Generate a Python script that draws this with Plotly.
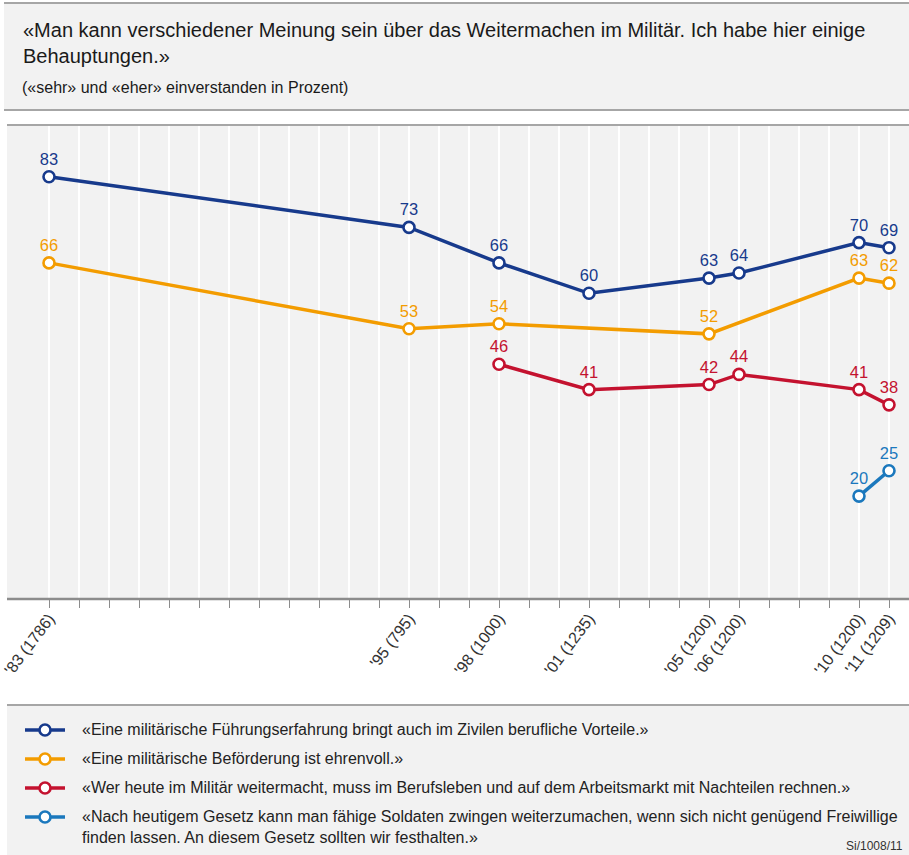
import plotly.graph_objects as go

# Survey years and values («sehr» und «eher» einverstanden, in Prozent)
years_fuehrung = [1983, 1995, 1998, 2001, 2005, 2006, 2010, 2011]
vals_fuehrung = [83, 73, 66, 60, 63, 64, 70, 69]

years_befoerderung = [1983, 1995, 1998, 2005, 2010, 2011]
vals_befoerderung = [66, 53, 54, 52, 63, 62]

years_nachteile = [1998, 2001, 2005, 2006, 2010, 2011]
vals_nachteile = [46, 41, 42, 44, 41, 38]

years_gesetz = [2010, 2011]
vals_gesetz = [20, 25]

tick_years = [1983, 1995, 1998, 2001, 2005, 2006, 2010, 2011]
tick_labels = ["'83 (1786)", "'95 (795)", "'98 (1000)", "'01 (1235)",
               "'05 (1200)", "'06 (1200)", "'10 (1200)", "'11 (1209)"]

series_names = [
    "«Eine militärische Führungserfahrung bringt auch im Zivilen berufliche Vorteile.»",
    "«Eine militärische Beförderung ist ehrenvoll.»",
    "«Wer heute im Militär weitermacht, muss im Berufsleben und auf dem Arbeitsmarkt mit Nachteilen rechnen.»",
    "«Nach heutigem Gesetz kann man fähige Soldaten zwingen weiterzumachen, wenn sich nicht genügend Freiwillige<br>finden lassen. An diesem Gesetz sollten wir festhalten.»",
]
colors = ["#173a8c", "#f39c00", "#c4122f", "#1b78bd"]

W, H = 909, 855
FONT = "Liberation Sans, Arial, sans-serif"
GRAY_BG = "#f2f2f2"
RULE = "#a6a6a6"


def py(pix):
    """Convert a pixel row (from top) to paper coordinates."""
    return 1 - pix / H


def px(pix):
    return pix / W


plot_left, plot_top, plot_bottom = 7, 125, 599

fig = go.Figure()

series = [
    (years_fuehrung, vals_fuehrung),
    (years_befoerderung, vals_befoerderung),
    (years_nachteile, vals_nachteile),
    (years_gesetz, vals_gesetz),
]
for (xs, ys), col, name in zip(series, colors, series_names):
    fig.add_trace(go.Scatter(
        x=xs, y=ys, mode="lines+markers+text",
        name=name,
        line=dict(color=col, width=3.5),
        marker=dict(size=11, color="white", line=dict(color=col, width=2.6)),
        text=[str(v) for v in ys], textposition="top center",
        textfont=dict(family=FONT, size=16.5, color=col),
        cliponaxis=False, showlegend=False,
    ))

all_years = list(range(1983, 2012))
ticktext = [tick_labels[tick_years.index(y)] if y in tick_years else "" for y in all_years]

fig.update_xaxes(
    domain=[px(plot_left), 1],
    range=[1983 - 42 / 30, 2011 + 20 / 30],
    tickmode="array", tickvals=all_years, ticktext=ticktext,
    tickangle=-53, ticks="outside", ticklen=8, tickwidth=1.2, tickcolor="#8c8c8c",
    tickfont=dict(family=FONT, size=16, color="#333333"),
    ticklabeloverflow="allow", ticklabelstandoff=-5, automargin=False,
    showgrid=True, gridcolor="white", gridwidth=1.6,
    showline=False, zeroline=False, fixedrange=True,
)
fig.update_yaxes(
    domain=[py(plot_bottom), py(plot_top)],
    range=[-0.3, 93.2],
    showgrid=False, zeroline=False, showticklabels=False, showline=False,
    automargin=False, fixedrange=True,
)

shapes = []
annotations = []

# header block
shapes.append(dict(type="rect", xref="paper", yref="paper", x0=px(4), x1=1,
                   y0=py(110), y1=py(3), fillcolor=GRAY_BG, line=dict(width=0), layer="below"))
for yy in (3, 110):
    shapes.append(dict(type="line", xref="paper", yref="paper", x0=px(4), x1=1,
                       y0=py(yy), y1=py(yy), line=dict(color=RULE, width=2.2)))
# plot frame lines
shapes.append(dict(type="line", xref="paper", yref="paper", x0=px(plot_left), x1=1,
                   y0=py(plot_top), y1=py(plot_top), line=dict(color=RULE, width=2.2)))
shapes.append(dict(type="line", xref="paper", yref="paper", x0=px(plot_left), x1=1,
                   y0=py(plot_bottom), y1=py(plot_bottom), line=dict(color="#8c8c8c", width=2.6)))
# legend block
shapes.append(dict(type="rect", xref="paper", yref="paper", x0=px(plot_left), x1=1,
                   y0=0, y1=py(705), fillcolor=GRAY_BG, line=dict(width=0), layer="below"))
shapes.append(dict(type="line", xref="paper", yref="paper", x0=px(plot_left), x1=1,
                   y0=py(705), y1=py(705), line=dict(color=RULE, width=2)))

annotations.append(dict(
    text="«Man kann verschiedener Meinung sein über das Weitermachen im Militär. Ich habe hier einige<br>Behauptungen.»",
    xref="paper", yref="paper", x=px(21), y=py(17), xanchor="left", yanchor="top",
    align="left", showarrow=False, font=dict(family=FONT, size=20, color="#1a1a1a")))
annotations.append(dict(
    text="(«sehr» und «eher» einverstanden in Prozent)",
    xref="paper", yref="paper", x=px(20), y=py(77), xanchor="left", yanchor="top",
    align="left", showarrow=False, font=dict(family=FONT, size=16, color="#1a1a1a")))

legend_rows = [730, 759, 788, 817]
for row, col, name in zip(legend_rows, colors, series_names):
    shapes.append(dict(type="line", xref="paper", yref="paper", x0=px(25), x1=px(65),
                       y0=py(row), y1=py(row), line=dict(color=col, width=3.5)))
    shapes.append(dict(type="circle", xref="paper", yref="paper",
                       x0=px(45 - 5.5), x1=px(45 + 5.5), y0=py(row + 5.5), y1=py(row - 5.5),
                       fillcolor="white", line=dict(color=col, width=2.6)))
    annotations.append(dict(
        text=name, xref="paper", yref="paper", x=px(80), y=py(row - 11),
        xanchor="left", yanchor="top", align="left", showarrow=False,
        font=dict(family=FONT, size=16, color="#222222")))

annotations.append(dict(
    text="Si/1008/11", xref="paper", yref="paper", x=px(905), y=py(837),
    xanchor="right", yanchor="top", showarrow=False,
    font=dict(family=FONT, size=12, color="#333333")))

fig.update_layout(
    width=W, height=H, margin=dict(l=0, r=0, t=0, b=0, autoexpand=False),
    paper_bgcolor="white", plot_bgcolor=GRAY_BG,
    shapes=shapes, annotations=annotations,
    showlegend=False,
)

fig.write_html("out.html")
